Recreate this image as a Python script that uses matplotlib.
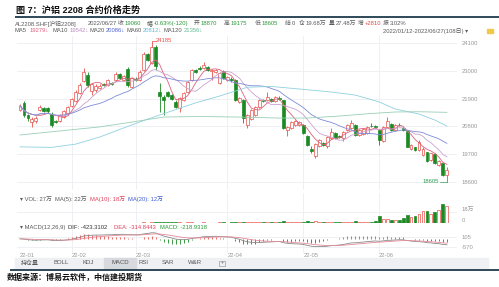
import numpy as np
import pandas as pd
import matplotlib.pyplot as plt
from matplotlib.patches import Rectangle

W, H = 499, 287
plt.rcParams['font.family'] = ['Liberation Sans', 'Noto Sans CJK SC', 'DejaVu Sans']

# daily bars, 2022/01/12 - 2022/06/27 (108 days)
opens = [21450, 21710, 21250, 20970, 21010, 21430, 21530, 21510, 21310, 21030,
         21010, 21170, 21330, 21610, 21810, 22120, 22600, 22850, 22200, 22240,
         22320, 22480, 22440, 22520, 22640, 22890, 22640, 23090, 22360, 22680,
         22640, 23030, 23670, 23310, 23940, 22150, 21980, 22150, 22040, 21780,
         21530, 21850, 22160, 22640, 23030, 23120, 23110, 23160, 22990, 22950,
         22520, 22990, 22640, 22660, 22640, 21770, 21850, 20860, 21090, 21250,
         21570, 21860, 21850, 21880, 21790, 21920, 21830, 20660, 20740, 20860,
         20860, 20860, 20420, 19890, 19630, 20020, 20160, 20020, 20340, 20540,
         20420, 20340, 20660, 20740, 20860, 20460, 20500, 20540, 20820, 20820,
         20660, 20220, 20780, 20890, 20660, 20860, 20730, 20600, 19910, 19970,
         19870, 19670, 19770, 19470, 19710, 19270, 19350, 18870]
highs = [21690, 21810, 21290, 21170, 21210, 21650, 21570, 21550, 21370, 21070,
         21290, 21450, 21610, 21920, 22240, 22520, 23110, 22950, 22520, 22480,
         22480, 22520, 22680, 22560, 22950, 22930, 22830, 23150, 22750, 22740,
         23030, 23740, 23700, 24185, 24020, 22520, 22040, 22200, 22080, 21830,
         21960, 22160, 22600, 23070, 23070, 23190, 23360, 23190, 23070, 23070,
         22950, 23030, 22790, 22740, 22680, 21960, 21880, 21290, 21490, 21610,
         21880, 21900, 22160, 21920, 22000, 22000, 21860, 20820, 21010, 21070,
         21010, 20900, 20460, 20020, 20140, 20300, 20180, 20420, 20740, 20580,
         20460, 20620, 20900, 21050, 20900, 20700, 20740, 20820, 20920, 20860,
         20700, 20820, 21170, 20930, 20890, 20950, 20760, 20620, 20100, 20000,
         20260, 19980, 19790, 19750, 19730, 19470, 19370, 19175]
lows = [21410, 21170, 21010, 20790, 20930, 21390, 21370, 21330, 20780, 20930,
        20970, 21130, 21250, 21570, 21770, 22080, 22560, 22360, 22040, 22160,
        22280, 22400, 22400, 22440, 22600, 22690, 22600, 22360, 22310, 22600,
        22600, 22990, 23390, 23270, 23030, 21380, 21250, 21960, 21850, 21530,
        21380, 21810, 22120, 22600, 22910, 23030, 23070, 22990, 22640, 22910,
        22480, 22680, 22600, 22560, 21810, 21730, 20930, 20740, 21050, 21210,
        21530, 21770, 21810, 21770, 21750, 21850, 20700, 20420, 20700, 20820,
        20820, 20500, 20020, 19750, 19550, 19980, 20020, 19950, 20300, 20300,
        20340, 20220, 20620, 20700, 20420, 20420, 20460, 20500, 20780, 20740,
        20060, 20180, 20740, 20620, 20620, 20800, 20620, 19980, 19870, 19840,
        19830, 19630, 19410, 19430, 19330, 19230, 18840, 18605]
closes = [21610, 21250, 21130, 21110, 21130, 21550, 21410, 21390, 20860, 20990,
          21250, 21410, 21570, 21880, 22160, 22440, 22950, 22420, 22480, 22400,
          22400, 22440, 22640, 22480, 22890, 22730, 22790, 22440, 22720, 22640,
          22950, 23670, 23430, 23940, 23190, 22010, 21850, 22010, 21880, 21580,
          21920, 22120, 22560, 23030, 22950, 23070, 23230, 23030, 23030, 23030,
          22910, 22720, 22760, 22620, 21850, 21920, 21130, 21250, 21450, 21570,
          21850, 21810, 21960, 21810, 21960, 21880, 20740, 20790, 20970, 21030,
          20970, 20540, 20060, 19840, 20100, 20260, 20060, 20380, 20580, 20340,
          20380, 20580, 20860, 20930, 20460, 20660, 20680, 20780, 20800, 20780,
          20260, 20780, 21010, 20660, 20860, 20840, 20660, 20000, 20060, 19850,
          20180, 19920, 19450, 19730, 19370, 19450, 18880, 19060]
# volume, 万手
volumes = [0.2, 0.3, 0.2, 0.2, 0.2, 0.3, 0.2, 0.2, 0.3, 0.2, 0.2, 0.3, 0.3,
           0.3, 0.4, 0.4, 0.5, 0.5, 0.4, 0.3, 0.3, 0.4, 0.4, 0.3, 0.5, 0.4, 0.4,
           0.6, 0.5, 0.4, 0.5, 0.8, 0.7,
           1.0, 1.2, 1.5, 1.1, 0.9, 0.8, 0.9, 0.8, 0.7, 0.9, 1.0, 0.7, 0.6, 0.8,
           0.7, 0.6, 0.7, 0.9, 0.8,
           0.7, 0.8, 1.6, 1.0, 1.8, 1.2, 1.0, 0.9, 1.1, 0.9, 1.0, 0.9, 1.0, 0.8,
           2.6, 1.5, 1.2, 1.1,
           1.2, 2.0, 2.6, 2.2, 2.4, 1.6, 1.5, 2.3, 2.0, 1.7, 1.5, 2.0, 2.1, 2.2,
           2.8, 2.0, 2.1, 2.2, 2.0, 2.5,
           10.6, 6.8, 6.8, 4.3, 5.2, 4.0, 8.4, 12.2, 9.5, 10.6, 14.8, 18.6, 18.6,
           15.0, 18.0, 20.0, 30.0, 27.0]
ma60_idx = [0, 8, 14, 20, 26, 32, 38, 44, 50, 57, 63, 70, 78, 84, 90, 94, 100, 104, 107]
ma60_val = [19990, 19970, 20100, 20380, 20740, 21090, 21410, 21730, 22000, 22350,
            22380, 22280, 22160, 22040, 21770, 21490, 21290, 21050, 20812]
ma120_idx = [0, 10, 20, 28, 36, 45, 55, 65, 72, 80, 88, 94, 100, 107]
ma120_val = [20460, 20620, 20780, 20970, 21170, 21190, 21170, 21130, 21130, 21210,
             21310, 21370, 21380, 21356]

month_start = [0, 13, 29, 52, 71, 90]
month_labels = ['22-01', '22-02', '22-03', '22-04', '22-05', '22-06']
price_ticks = [24100, 23000, 21900, 20800, 19700, 18600]
vol_ticks = [0, 18]
vol_tick_labels = ['0', '18万']
macd_ticks = [105, -570]

UP = '#e8504a'
DOWN = '#1b8a22'
GRID = '#eceef1'
TXT = '#5a5a5a'
AXT = '#9a9a9a'

df = pd.DataFrame({'open': opens, 'high': highs, 'low': lows, 'close': closes, 'vol': volumes})
df['ma5'] = df['close'].rolling(5, min_periods=1).mean()
df['ma10'] = df['close'].rolling(10, min_periods=1).mean()
df['ma20'] = df['close'].rolling(20, min_periods=1).mean()
ema12 = df['close'].ewm(span=12, adjust=False).mean()
ema26 = df['close'].ewm(span=26, adjust=False).mean()
df['dif'] = ema12 - ema26
df['dea'] = df['dif'].ewm(span=9, adjust=False).mean()
df['macd'] = 2 * (df['dif'] - df['dea'])
up = (df['close'] >= df['open']).values
idx = np.arange(len(df))

fig = plt.figure(figsize=(W / 100, H / 100), dpi=100)


def add_axes_px(x0, y0, x1, y1):
    return fig.add_axes([x0 / W, 1 - y1 / H, (x1 - x0) / W, (y1 - y0) / H])


# candle i sits at pixel x = 20 + 3.99*i, panels span x 17..457
XLIM = ((17 - 20) / 3.99, (457 - 20) / 3.99)


def style(a):
    a.set_xlim(*XLIM)
    for s in a.spines.values():
        s.set_visible(False)
    a.yaxis.tick_right()
    a.tick_params(axis='both', length=0, labelsize=4.2, labelcolor=AXT, pad=3.6)
    a.set_xticks([])
    a.grid(axis='y', color=GRID, lw=0.6)
    a.set_axisbelow(True)
    for m in month_start[1:]:
        a.axvline(m, color=GRID, lw=0.6, zorder=0)


# ---- price panel ----
ax = add_axes_px(17, 36, 457, 190)
style(ax)
ax.set_ylim(18283, 24377)
ax.set_yticks(price_ticks)
ax.set_yticklabels([str(p) for p in price_ticks])
for i, r in df.iterrows():
    c = UP if up[i] else DOWN
    ax.vlines(i, r['low'], r['high'], color=c, lw=0.6, zorder=2)
    lo = min(r['open'], r['close'])
    h = max(abs(r['close'] - r['open']), 18)
    ax.add_patch(Rectangle((i - 0.37, lo), 0.74, h, facecolor='white' if up[i] else c,
                           edgecolor=c, lw=0.5, zorder=3))
ax.plot(idx, df['ma5'], color='#e0607e', lw=0.6, zorder=4)
ax.plot(idx, df['ma10'], color='#c9a3cf', lw=0.6, zorder=4)
ax.plot(idx, df['ma20'], color='#7f8bd8', lw=0.6, zorder=4)
ax.plot(ma60_idx, ma60_val, color='#8fd0e0', lw=0.6, zorder=4)
ax.plot(ma120_idx, ma120_val, color='#98cfb5', lw=0.6, zorder=4)

hi = int(np.argmax(highs))
lo_i = int(np.argmin(lows))
ax.plot([hi, hi + 1], [highs[hi]] * 2, color=UP, lw=0.5)
ax.text(hi + 1.1, highs[hi], str(highs[hi]), color=UP, fontsize=4.2, va='center')
ax.plot([lo_i - 1.7, lo_i], [lows[lo_i]] * 2, color='#2e9e55', lw=0.5)
ax.text(lo_i - 1.9, lows[lo_i], str(lows[lo_i]), color='#2e9e55', fontsize=4.2,
        va='center', ha='right')

# ---- volume panel ----
axv = add_axes_px(17, 193, 457, 223)
style(axv)
axv.set_ylim(0, 47.7)
axv.set_yticks(vol_ticks)
axv.set_yticklabels(vol_tick_labels, va='bottom')
axv.bar(idx, df['vol'], width=0.74,
        color=['white' if u else DOWN for u in up],
        edgecolor=[UP if u else DOWN for u in up], lw=0.5, zorder=3)

# ---- MACD panel ----
axm = add_axes_px(17, 224, 457, 253)
style(axm)
axm.set_ylim(-1022, 1066)
axm.set_yticks(macd_ticks)
axm.set_yticklabels([str(v) for v in macd_ticks])
axm.vlines(idx, 0, df['macd'], colors=[UP if v > 0 else DOWN for v in df['macd']],
           lw=0.6, zorder=3)
axm.plot(idx, df['dif'], color='#8a8a8a', lw=0.6, zorder=4)
axm.plot(idx, df['dea'], color='#e58a9a', lw=0.6, zorder=4)
axm.set_xticks(month_start)
axm.set_xticklabels(month_labels, ha='left')
axm.tick_params(axis='x', pad=0.2)

# ---- overlay in pixel coordinates: header, labels, tab bar, footer ----
ov = fig.add_axes([0, 0, 1, 1])
ov.set_xlim(0, W)
ov.set_ylim(H, 0)
ov.axis('off')
ov.patch.set_alpha(0)

ov.text(16, 10.5, '图 7：沪铝 2208 合约价格走势', fontsize=6.6, fontweight='bold',
        color='#111111', va='center')
ov.plot([15, W], [17, 17], color='#1f3a4c', lw=1.3, solid_capstyle='butt')

G = '#2a9a3a'
R = '#e04848'
FS = 4.2
info1 = [(15, 'AL2208.SHF[沪铝2208]', TXT), (88, '2022/06/27', TXT),
         (118, '收', TXT), (125, '19060', G), (147, '幅', TXT), (154, '-0.63%(-120)', G),
         (194, '开', TXT), (201, '18870', G), (224, '高', TXT), (231, '19175', G),
         (255, '低', TXT), (262, '18605', G), (285, '结', TXT), (292, '0', TXT),
         (299, '仓', TXT), (306, '19.68万', TXT), (329, '量', TXT), (336, '27.48万', TXT),
         (358, '增', TXT), (365, '+2810', R), (383, '振', TXT), (390, '3.02%', TXT)]
for x, s, c in info1:
    ov.text(x, 23.5, s, fontsize=FS, color=c, va='center')
info2 = [(15, 'MA5', TXT), (30, '19279↓', '#e0607e'), (53, 'MA10', TXT),
         (70, '19542↓', '#b98ac0'), (90, 'MA20', TXT), (106, '20086↓', '#4f63d0'),
         (127, 'MA60', TXT), (143, '20812↓', '#5bbad8'), (164, 'MA120', TXT),
         (184, '21356↓', '#5fbf95')]
for x, s, c in info2:
    ov.text(x, 31, s, fontsize=FS, color=c, va='center')
ov.text(383, 31, '2022/01/12-2022/06/27(108日) ▾', fontsize=FS, color=TXT, va='center')
ov.add_patch(Rectangle((487, 28.5), 6, 4.5, color='#f2c84b'))

vol_lab = [(20, '▾ VOL: 27万', TXT), (55, 'MA(5): 22万', TXT),
           (90, 'MA(10): 18万', '#e0405a'), (128, 'MA(20): 12万', '#3f5fd6')]
for x, s, c in vol_lab:
    ov.text(x, 199, s, fontsize=FS, color=c, va='center')
macd_lab = [(20, '▾ MACD(12,26,9)', TXT), (68, 'DIF: -423.3102', '#333333'),
            (114, 'DEA: -314.8443', '#e0405a'), (160, 'MACD: -218.9318', '#2a9a3a')]
for x, s, c in macd_lab:
    ov.text(x, 227.7, s, fontsize=FS, color=c, va='center')

ov.add_patch(Rectangle((15, 258), 473, 10, color='#eef0f3', zorder=0))
ov.add_patch(Rectangle((104, 258), 32, 10, color='#d6d9de', zorder=0))
tabs = [(30, '持仓量'), (61, 'BOLL'), (88, 'KDJ'), (120, 'MACD'), (144, 'RSI'),
        (168, 'SAR'), (195, 'W&R')]
for x, s in tabs:
    ov.text(x, 263, s, fontsize=4.3, color='#555555', va='center', ha='center')
ov.add_patch(Rectangle((219, 260.5), 6, 5, fill=False, edgecolor='#888888', lw=0.4))
ov.text(222, 263, '+', fontsize=4, color='#666666', va='center', ha='center')
ov.plot([10, W], [269.5, 269.5], color='#1f3a4c', lw=1.3, solid_capstyle='butt')

ov.text(7, 278, '数据来源：博易云软件，中信建投期货', fontsize=5.8, fontweight='bold',
        color='#111111', va='center')

fig.savefig('out.png', dpi=100)
